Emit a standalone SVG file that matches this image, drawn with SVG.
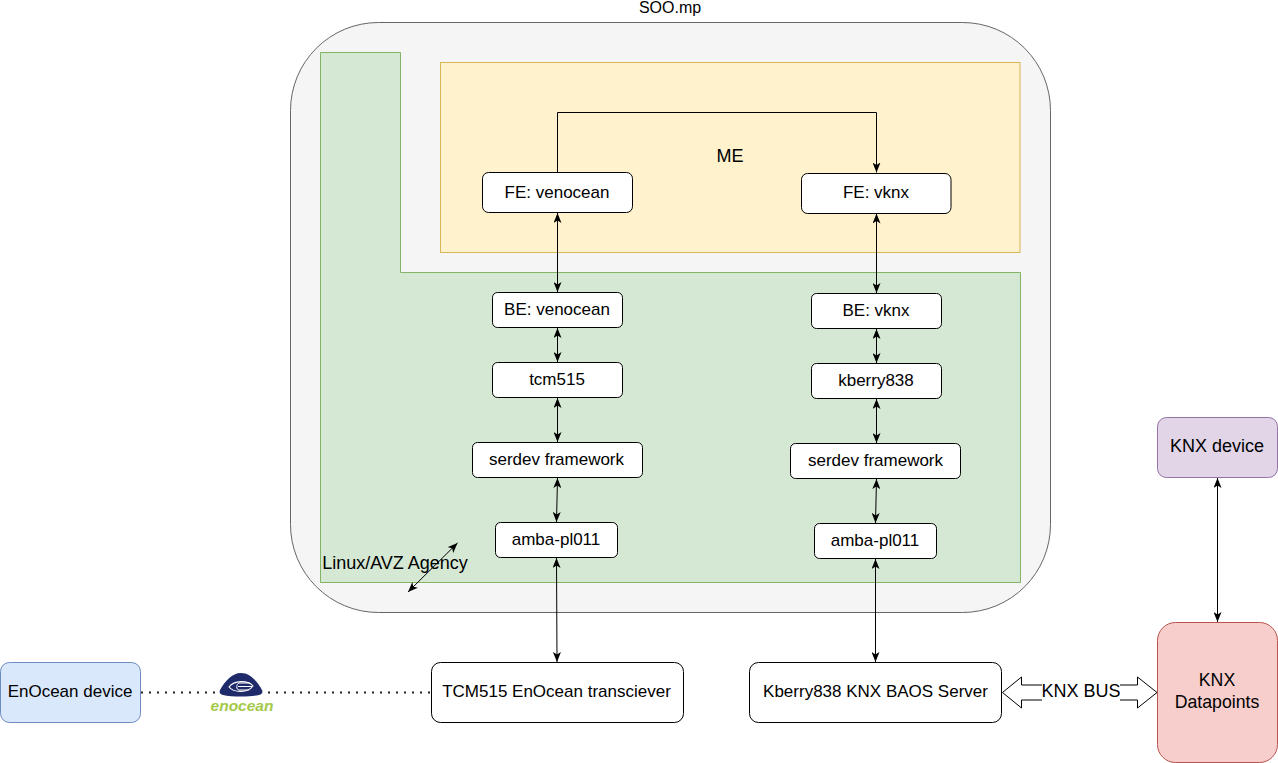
<svg xmlns="http://www.w3.org/2000/svg" width="1278" height="763" viewBox="0 0 1278 763">
<style>
text{font-family:"Liberation Sans",Arial,sans-serif;font-size:17px;fill:#000;text-anchor:middle}
.l{font-size:18px}
.n{fill:#fff;stroke:#000;stroke-width:1}
.c{fill:none;stroke:#000;stroke-width:1}
</style>
<defs>
<marker id="a" viewBox="0 0 10 8" refX="10" refY="4" markerWidth="10" markerHeight="8" markerUnits="userSpaceOnUse" orient="auto-start-reverse"><path d="M0 0L10 4L0 8L2.500 4Z" fill="#000"/></marker>
</defs>
<rect width="1278" height="763" fill="#fff"/>
<g id="soo"><rect x="290.500" y="22.500" width="760" height="590" rx="88" fill="#f5f5f5" stroke="#666"/><text x="670" y="13" style="font-size:16px">SOO.mp</text></g>
<g id="linux"><path d="M320.500 52.500H400.500V272.500H1020.500V582.500H320.500Z" fill="#d5e8d4" stroke="#82b366"/><text class="l" x="395" y="569">Linux/AVZ Agency</text></g>
<g id="me"><rect x="440.500" y="62.500" width="579.500" height="190" fill="#fff2cc" stroke="#d6b656"/><text class="l" x="730" y="162">ME</text></g>
<g id="connectors">
<path class="c" d="M557.500 172.500V112.500H876.500V172.500" marker-end="url(#a)"/>
<path class="c" d="M557.500 213V292" marker-start="url(#a)" marker-end="url(#a)"/>
<path class="c" d="M876.500 213.500V293" marker-start="url(#a)" marker-end="url(#a)"/>
<path class="c" d="M557.500 328V362" marker-start="url(#a)" marker-end="url(#a)"/>
<path class="c" d="M876.500 329V363" marker-start="url(#a)" marker-end="url(#a)"/>
<path class="c" d="M557.500 398V442" marker-start="url(#a)" marker-end="url(#a)"/>
<path class="c" d="M876.500 399V443" marker-start="url(#a)" marker-end="url(#a)"/>
<path class="c" d="M557.500 478L556.500 522" marker-start="url(#a)" marker-end="url(#a)"/>
<path class="c" d="M876.500 479L875.500 523" marker-start="url(#a)" marker-end="url(#a)"/>
<path class="c" d="M556.500 558L557 662" marker-start="url(#a)" marker-end="url(#a)"/>
<path class="c" d="M875.500 559V662" marker-start="url(#a)" marker-end="url(#a)"/>
<path class="c" d="M1217.500 478V622" marker-start="url(#a)" marker-end="url(#a)"/>
<path class="c" d="M408 592L457.500 543" marker-start="url(#a)" marker-end="url(#a)"/>
<path d="M141 692.500H220M268 692.500H431" fill="none" stroke="#222" stroke-width="2" stroke-dasharray="2 6"/>
<path d="M1002.500 692.500L1021.500 677V685H1137.500V677L1157 692.500L1137.500 708V700H1021.500V708Z" fill="#fff"/>
<path class="c" d="M1042 685H1021.500V677L1002.500 692.500L1021.500 708V700H1042M1120 685H1137.500V677L1157 692.500L1137.500 708V700H1120"/>
<text class="l" x="1081" y="697">KNX BUS</text>
</g>
<g id="fe-venocean"><rect class="n" x="482.500" y="172.500" width="150" height="40" rx="6"/><text x="557" y="198">FE: venocean</text></g>
<g id="fe-vknx"><rect class="n" x="801.500" y="173.500" width="149.500" height="40" rx="6"/><text x="876" y="198">FE: vknx</text></g>
<g id="be-venocean"><rect class="n" x="492.500" y="292.500" width="130" height="35" rx="5"/><text x="557" y="315">BE: venocean</text></g>
<g id="be-vknx"><rect class="n" x="811.500" y="293.500" width="130" height="35" rx="5"/><text x="876" y="316">BE: vknx</text></g>
<g id="tcm515"><rect class="n" x="492.500" y="362.500" width="130" height="35" rx="5"/><text x="557" y="385">tcm515</text></g>
<g id="kberry838"><rect class="n" x="811.500" y="363.500" width="130" height="35" rx="5"/><text x="876" y="386">kberry838</text></g>
<g id="serdev-left"><rect class="n" x="472.500" y="442.500" width="170" height="35" rx="5"/><text x="556.500" y="465">serdev framework</text></g>
<g id="serdev-right"><rect class="n" x="790.500" y="443.500" width="170" height="35" rx="5"/><text x="875.500" y="466">serdev framework</text></g>
<g id="amba-left"><rect class="n" x="495.500" y="522.500" width="122" height="35" rx="5"/><text x="556" y="545">amba-pl011</text></g>
<g id="amba-right"><rect class="n" x="814.500" y="523.500" width="122" height="35" rx="5"/><text x="875" y="546">amba-pl011</text></g>
<g id="tcm-transceiver"><rect class="n" x="431.500" y="662.500" width="252" height="60" rx="9"/><text x="556.500" y="697">TCM515 EnOcean transciever</text></g>
<g id="kberry-server"><rect class="n" x="749.500" y="662.500" width="252" height="60" rx="9"/><text x="875.500" y="697">Kberry838 KNX BAOS Server</text></g>
<g id="enocean-device"><rect x="0.500" y="662.500" width="140" height="60" rx="9" fill="#dae8fc" stroke="#6c8ebf"/><text x="70" y="697">EnOcean device</text></g>
<g id="knx-device"><rect x="1157.500" y="417.500" width="120" height="60" rx="9" fill="#e1d5e7" stroke="#9673a6"/><text class="l" x="1217" y="452">KNX device</text></g>
<g id="knx-datapoints"><rect x="1157.500" y="622.500" width="120" height="140" rx="18" fill="#f8cecc" stroke="#b85450"/><text x="1217" y="686" style="font-size:17.700px">KNX</text><text x="1217" y="708" style="font-size:17.700px">Datapoints</text></g>
<g id="enocean-logo">
<path d="M220 690C225 681 232 673 241 673C250 673 257 681 262 690C263 693 262 694 259 695C250 697 232 697 223 695C220 694 219 693 220 690Z" fill="#1f2a6b"/>
<path d="M229 687C234 680 248 680 253 686C248 693 234 693 229 687Z" fill="none" stroke="#fff" stroke-width="1.100"/>
<path d="M250 683H239C236 684 236 690 239 690H249M238 686.500H252" fill="none" stroke="#fff" stroke-width="1"/>
<text x="242" y="711" style="font-size:15.500px;font-weight:bold;font-style:italic;fill:#a4c94a">enocean</text>
</g>
</svg>
